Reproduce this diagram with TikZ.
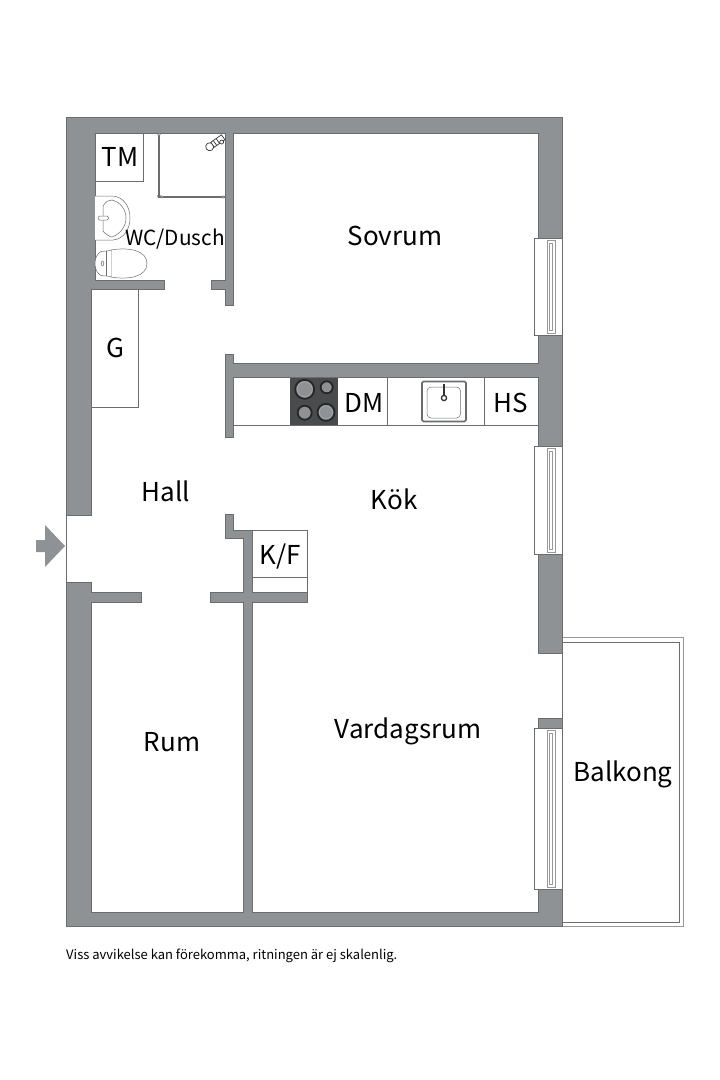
\documentclass[tikz,border=0pt]{standalone}
\usepackage{fontspec}
\setmainfont{Noto Sans CJK SC}
\definecolor{wallgray}{HTML}{8E9294}
\definecolor{linegray}{HTML}{6A6C6E}
\definecolor{hobgray}{HTML}{4A4B4D}
\tikzset{
  wall/.style = {draw=linegray, fill=wallgray, line width=0.6pt},
  fixture/.style = {draw=linegray, fill=white, line width=0.7pt},
  thinline/.style = {draw=linegray, line width=0.5pt},
  room/.style = {font=\fontsize{26}{26}\selectfont, text=black, inner sep=0pt, anchor=base},
  small/.style = {font=\fontsize{20.800}{20.800}\selectfont, text=black, inner sep=0pt, anchor=base},
  burner/.style = {draw=black!85, fill=wallgray, line width=1.8pt}
}
\begin{document}
\begin{tikzpicture}[x=1pt, y=-1pt]
  \useasboundingbox (0,0) rectangle (720,1080);

  % balcony
  \draw[draw=linegray!70, line width=0.8pt] (562,637) -- (683,637) -- (683,926) -- (562,926);
  \draw[draw=linegray, line width=1pt] (562,642) -- (679,642) -- (679,922) -- (562,922);
  \draw[thinline, line width=0.8pt] (562,653) -- (562,718);

  % fixed units
  \draw[fixture] (95,133) rectangle (143,181);
  \draw[fixture] (91,289) rectangle (138.500,407);
  \draw[fixture] (252,530) rectangle (307,592);
  \draw[thinline] (252,577) -- (307,577);
  \draw[fixture] (233,377) rectangle (538,425);
  \draw[thinline] (387,377) -- (387,425);
  \draw[thinline] (484,377) -- (484,425);

  % hob
  \fill[hobgray] (290,377) rectangle (338,425);
  \draw[burner] (304.700,389.300) circle (9.500);
  \draw[burner] (326.700,387.300) circle (6);
  \draw[burner] (304.700,412.700) circle (7);
  \draw[burner] (326,412.300) circle (8.500);
  \draw[draw=wallgray!70, line width=0.4pt] (304.700,389.300) circle (7.500);
  \draw[draw=wallgray!70, line width=0.4pt] (326,412.300) circle (6.500);

  % sink
  \draw[draw=linegray, fill=white, line width=1.600pt, rounded corners=1.500pt] (422,381.500) rectangle (466,421.500);
  \draw[thinline, rounded corners=4pt] (427,387) rectangle (460.500,418);
  \draw[draw=black!80, line width=1.300pt] (444,398) circle (2.600);
  \draw[draw=black!80, line width=1.300pt] (444,384) -- (444,395.500);

  % walls
  \draw[wall] (66,515) -- (66,117) -- (562,117) -- (562,238) -- (538,238) -- (538,133) -- (233,133)
    -- (233,305) -- (225,305) -- (225,289) -- (211,289) -- (211,280) -- (225,280) -- (225,133)
    -- (95,133) -- (95,280) -- (164,280) -- (164,289) -- (91,289) -- (91,515) -- cycle;
  \draw[wall] (562,335) -- (562,446) -- (538,446) -- (538,377) -- (233,377) -- (233,437) -- (225,437)
    -- (225,354) -- (233,354) -- (233,363) -- (538,363) -- (538,335) -- cycle;
  \draw[wall] (538,554) rectangle (562,653);
  \draw[wall] (538,718) rectangle (562,728);
  \draw[wall] (562,889) -- (562,926) -- (66,926) -- (66,582) -- (91,582) -- (91,592) -- (141,592)
    -- (141,602) -- (91,602) -- (91,912) -- (243,912) -- (243,602) -- (210,602) -- (210,592) -- (243,592)
    -- (243,538) -- (225,538) -- (225,514) -- (233,514) -- (233,530) -- (252,530) -- (252,592)
    -- (307,592) -- (307,602) -- (252,602) -- (252,912) -- (538,912) -- (538,889) -- cycle;

  % entrance
  \draw[thinline] (66,515) -- (66,582);
  \fill[wallgray] (36,540) -- (45,540) -- (45,525) -- (65,546) -- (45,567) -- (45,552) -- (36,552) -- cycle;

  % windows
  \foreach \wtop/\wbot in {238/335, 446/554, 728/889} {
    \draw[fixture, line width=0.6pt] (562,\wtop) -- (534,\wtop) -- (534,\wbot) -- (562,\wbot);
    \draw[draw=linegray!70, line width=0.5pt] (547,\wtop+2) rectangle (555,\wbot-2);
    \draw[draw=linegray!70, line width=0.5pt] (549.300,\wtop+5) rectangle (552.300,\wbot-5);
  }
  \draw[thinline, line width=0.8pt] (562,238) -- (562,335);
  \draw[thinline, line width=0.8pt] (562,446) -- (562,554);
  \draw[thinline, line width=0.8pt] (562,728) -- (562,889);

  % shower
  \draw[draw=linegray, line width=1.100pt] (159,134) -- (159,197) -- (225,197);
  \draw[thinline, fill=white] (159,134.500) circle (1.300);
  \draw[thinline, fill=linegray] (159,196) circle (1.500);
  \draw[thinline, fill=white] (162,197) circle (1.300);
  \draw[thinline, fill=white] (223,197) circle (1.300);
  \begin{scope}[shift={(215,143)}, rotate=35]
    \draw[draw=black!80, line width=0.7pt, fill=white] (-6.500,0) circle (4);
    \draw[draw=black!80, line width=0.7pt, fill=white] (-3,-3) rectangle (10,3);
    \draw[draw=black!80, line width=0.7pt] (0,-3) -- (0,3);
    \draw[draw=black!80, line width=0.7pt] (3.500,-3) -- (3.500,3);
    \draw[draw=black!80, line width=0.7pt, fill=white] (6,3) circle (2);
  \end{scope}

  % wash basin
  \draw[thinline, fill=white] (95,196) -- (113,196) .. controls (124,197) and (130,207) .. (130,218)
    .. controls (130,229) and (124,239) .. (113,240) -- (95,240);
  \draw[thinline] (103,206) .. controls (106,201) and (109,200) .. (112,200) .. controls (120,202) and (126,209) .. (126,218)
    .. controls (126,227) and (120,234) .. (112,237) .. controls (110,237) and (104,233) .. (103,231) -- cycle;
  \draw[thinline, fill=white, rounded corners=1.500pt] (98,216) rectangle (108.500,220);

  % toilet
  \draw[thinline, fill=white] (111,250) .. controls (128,247) and (147,250) .. (147,263.500)
    .. controls (147,277) and (128,280) .. (111,277) -- cycle;
  \draw[thinline, fill=white] (111,250.500) -- (106,251) -- (101,251.500) .. controls (97,254) and (95,258) .. (95,263.500)
    .. controls (95,269) and (97,273) .. (101,275.500) -- (106,276) -- (111,276.500);
  \draw[thinline] (106,251) -- (106,276);
  \draw[thinline, fill=white] (102.500,263.500) ellipse (1.300 and 2.600);

  % labels
  \node[room] (tm) at (120,166) {TM};
  \node[room] (g) at (115,357) {G};
  \node[small] (wc) at (175,245) {WC/Dusch};
  \node[room] (sovrum) at (395,245) {Sovrum};
  \node[room] (dm) at (364,412) {DM};
  \node[room] (hs) at (511,412) {HS};
  \node[room] (hall) at (166,501) {Hall};
  \node[room] (kok) at (394,509) {Kök};
  \node[room] (kf) at (280,564) {K/F};
  \node[room] (rum) at (172,751) {Rum};
  \node[room] (vardagsrum) at (408,738) {Vardagsrum};
  \node[room] (balkong) at (623,781) {Balkong};
  \node[anchor=base west, inner sep=0pt, font=\fontsize{13}{13}\selectfont] (note) at (66,959)
    {Viss avvikelse kan förekomma, ritningen är ej skalenlig.};
\end{tikzpicture}
\end{document}
